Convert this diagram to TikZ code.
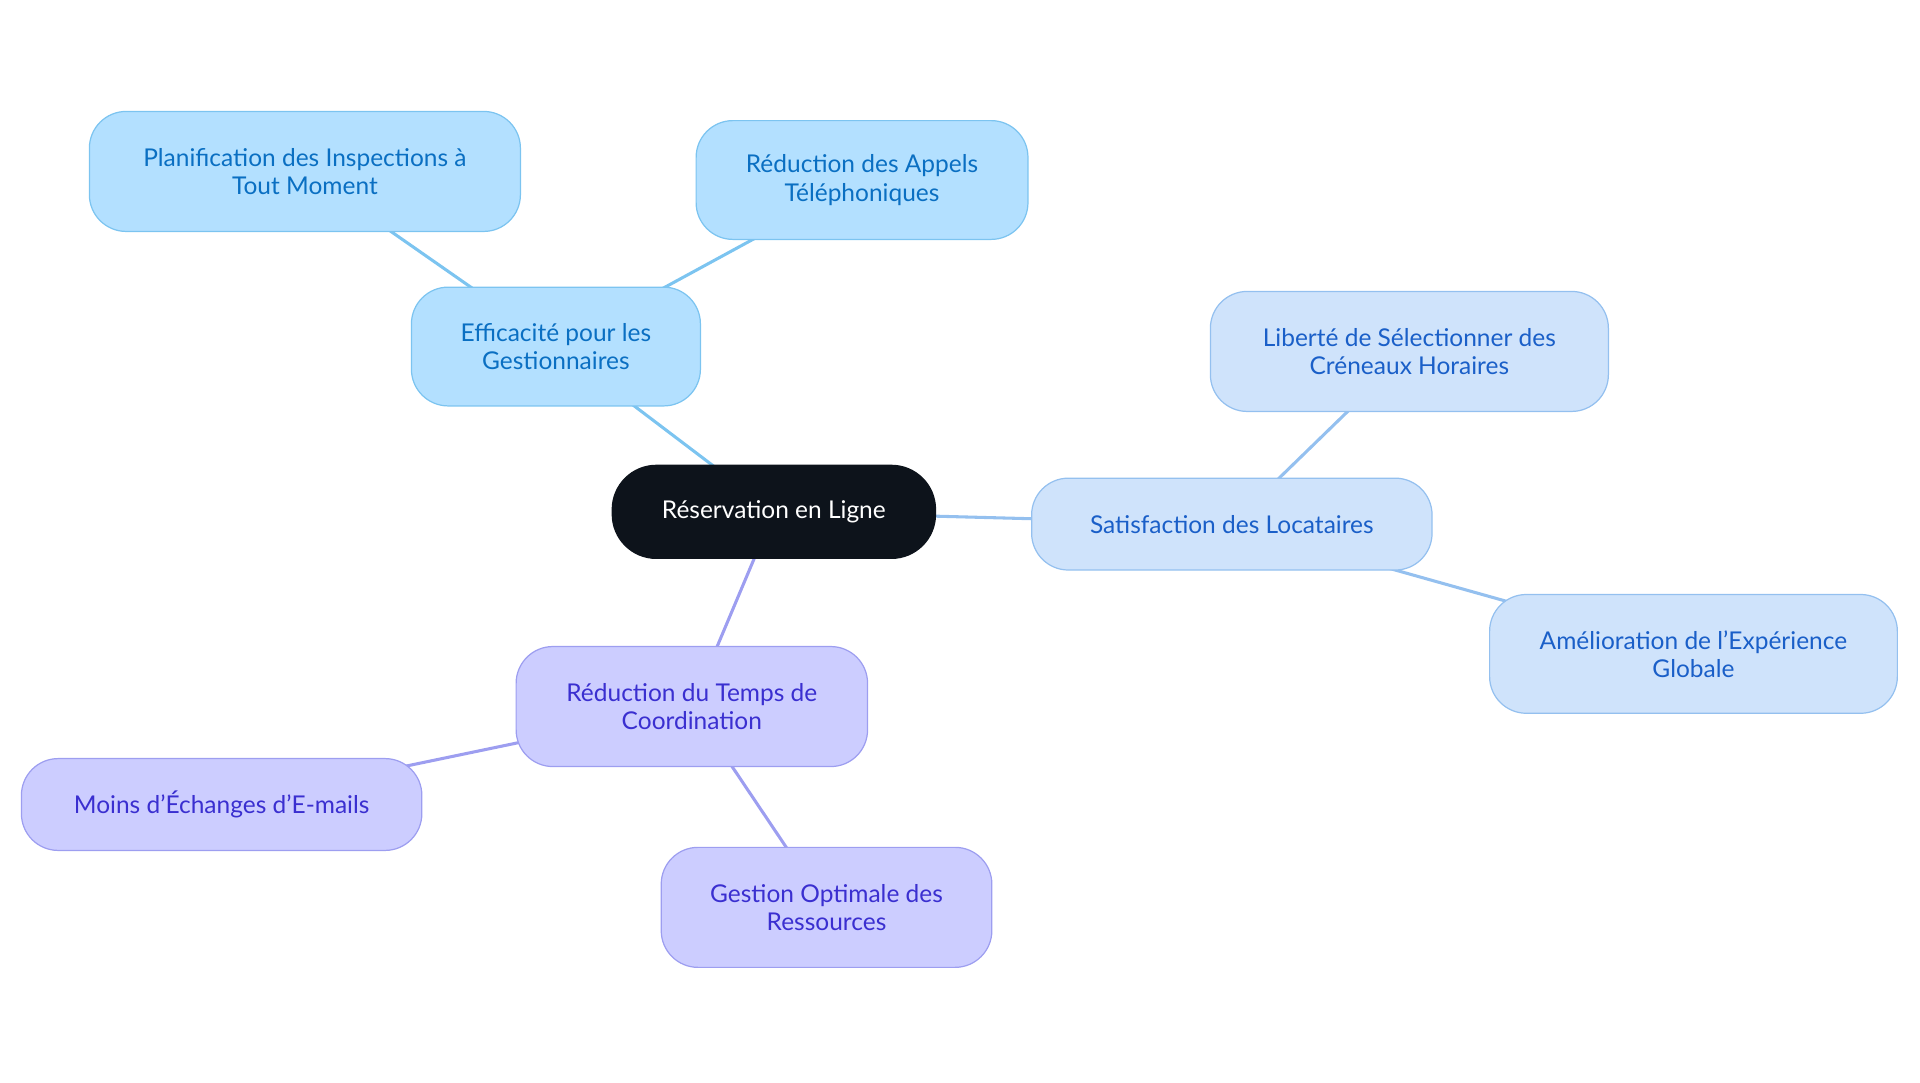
\documentclass[tikz,border=0pt]{standalone}
\usepackage{fontspec}
\setmainfont{Lato}
\definecolor{bA}{HTML}{B3E0FF}\definecolor{dA}{HTML}{7CC4F0}\definecolor{tA}{HTML}{0A6FC2}
\definecolor{bB}{HTML}{CFE3FB}\definecolor{dB}{HTML}{94C0EF}\definecolor{tB}{HTML}{1A5FC8}
\definecolor{bC}{HTML}{CCCDFF}\definecolor{dC}{HTML}{9D9EF0}\definecolor{tC}{HTML}{3A2FD0}
\definecolor{cen}{HTML}{0D131B}
\tikzset{
 box/.style={rounded corners=30pt,draw,line width=1pt,align=center,inner sep=0pt,font=\fontsize{20}{23}\selectfont},
 ga/.style={box,fill=bA,draw=dA,text=tA},
 gb/.style={box,fill=bB,draw=dB,text=tB},
 gc/.style={box,fill=bC,draw=dC,text=tC},
 la/.style={draw=dA,line width=2.5pt},
 lb/.style={draw=dB,line width=2.5pt},
 lc/.style={draw=dC,line width=2.5pt},
}
\begin{document}
\begin{tikzpicture}[x=1pt,y=-1pt]
\useasboundingbox (0,0) rectangle (1568,884);
\begin{scope}[on background layer/.style={}]
\coordinate (c) at (632,418);
\coordinate (e) at (454,283);
\coordinate (p) at (249,140);
\coordinate (r) at (704,147);
\coordinate (s) at (1006,428);
\coordinate (l) at (1151,287);
\coordinate (a) at (1383,534);
\coordinate (t) at (565,577);
\coordinate (m) at (181,657);
\coordinate (g) at (675,741);
\draw[la] (c)--(e) (e)--(p) (e)--(r);
\draw[lb] (c)--(s) (s)--(l) (s)--(a);
\draw[lc] (c)--(t) (t)--(m) (t)--(g);
\end{scope}
\node[box,fill=cen,draw=cen,text=white,minimum width=264pt,minimum height=76pt,rounded corners=36pt] (nc) at (c) {Réservation en Ligne};
\node[ga,minimum width=236pt,minimum height=97pt] (ne) at (e) {Efficacité pour les\\Gestionnaires};
\node[ga,minimum width=352pt,minimum height=98pt] (np) at (p) {Planification des Inspections à\\Tout Moment};
\node[ga,minimum width=271pt,minimum height=97pt] (nr) at (r) {Réduction des Appels\\Téléphoniques};
\node[gb,minimum width=327pt,minimum height=75pt] (ns) at (s) {Satisfaction des Locataires};
\node[gb,minimum width=325pt,minimum height=98pt] (nl) at (l) {Liberté de Sélectionner des\\Créneaux Horaires};
\node[gb,minimum width=333pt,minimum height=97pt] (na) at (a) {Amélioration de l'Expérience\\Globale};
\node[gc,minimum width=287pt,minimum height=98pt] (nt) at (t) {Réduction du Temps de\\Coordination};
\node[gc,minimum width=327pt,minimum height=75pt] (nm) at (m) {Moins d'Échanges d'E-mails};
\node[gc,minimum width=270pt,minimum height=98pt] (ng) at (g) {Gestion Optimale des\\Ressources};
\end{tikzpicture}
\end{document}
